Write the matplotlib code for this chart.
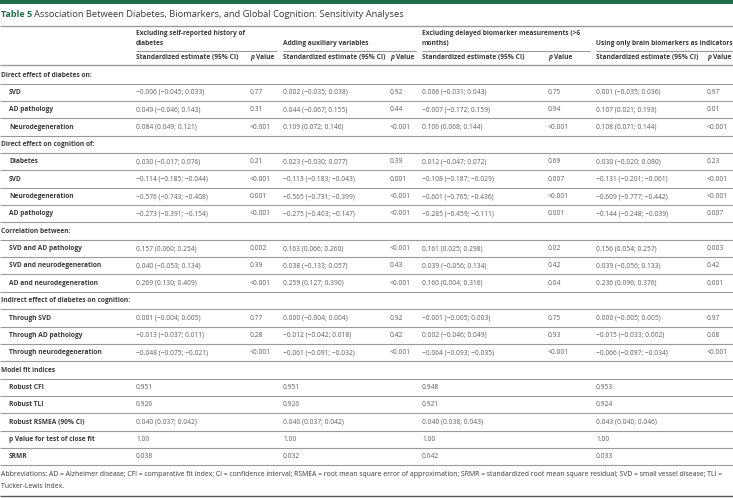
import matplotlib
matplotlib.use("Agg")
import matplotlib.pyplot as plt

# ---------------- data ----------------
title_label = "Table 5"
title_text = "Association Between Diabetes, Biomarkers, and Global Cognition: Sensitivity Analyses"

group_headers = [
    "Excluding self-reported history of\ndiabetes",
    "Adding auxiliary variables",
    "Excluding delayed biomarker measurements (>6\nmonths)",
    "Using only brain biomarkers as indicators",
]
sub_est = "Standardized estimate (95% CI)"

section_titles = [
    "Direct effect of diabetes on:",
    "Direct effect on cognition of:",
    "Correlation between:",
    "Indirect effect of diabetes on cognition:",
    "Model fit indices",
]
section_rows = [
    ["SVD", "AD pathology", "Neurodegeneration"],
    ["Diabetes", "SVD", "Neurodegeneration", "AD pathology"],
    ["SVD and AD pathology", "SVD and neurodegeneration", "AD and neurodegeneration"],
    ["Through SVD", "Through AD pathology", "Through neurodegeneration"],
    ["Robust CFI", "Robust TLI", "Robust RSMEA (90% CI)", "p Value for test of close fit", "SRMR"],
]

est_excl_selfreport = [
    "−0.006 (−0.045; 0.033)", "0.049 (−0.046; 0.143)", "0.084 (0.049; 0.121)",
    "0.030 (−0.017; 0.076)", "−0.114 (−0.185; −0.044)", "−0.576 (−0.743; −0.408)", "−0.273 (−0.391; −0.154)",
    "0.157 (0.060; 0.254)", "0.040 (−0.053; 0.134)", "0.269 (0.130; 0.409)",
    "0.001 (−0.004; 0.005)", "−0.013 (−0.037; 0.011)", "−0.048 (−0.075; −0.021)",
    "0.951", "0.926", "0.040 (0.037; 0.042)", "1.00", "0.038",
]
p_excl_selfreport = [
    "0.77", "0.31", "<0.001",
    "0.21", "<0.001", "0.001", "<0.001",
    "0.002", "0.39", "<0.001",
    "0.77", "0.28", "<0.001",
    "", "", "", "", "",
]
est_auxiliary = [
    "0.002 (−0.035; 0.038)", "0.044 (−0.067; 0.155)", "0.109 (0.072; 0.146)",
    "0.023 (−0.030; 0.077)", "−0.113 (−0.183; −0.043)", "−0.565 (−0.731; −0.399)", "−0.275 (−0.403; −0.147)",
    "0.163 (0.066; 0.260)", "0.038 (−0.133; 0.057)", "0.259 (0.127; 0.390)",
    "0.000 (−0.004; 0.004)", "−0.012 (−0.042; 0.018)", "−0.061 (−0.091; −0.032)",
    "0.951", "0.926", "0.040 (0.037; 0.042)", "1.00", "0.032",
]
p_auxiliary = [
    "0.92", "0.44", "<0.001",
    "0.39", "0.001", "<0.001", "<0.001",
    "<0.001", "0.43", "<0.001",
    "0.92", "0.42", "<0.001",
    "", "", "", "", "",
]
est_excl_delayed = [
    "0.006 (−0.031; 0.043)", "−0.007 (−0.172; 0.159)", "0.106 (0.068; 0.144)",
    "0.012 (−0.047; 0.072)", "−0.108 (−0.187; −0.029)", "−0.601 (−0.765; −0.436)", "−0.285 (−0.459; −0.111)",
    "0.161 (0.025; 0.298)", "0.039 (−0.056; 0.134)", "0.160 (0.004; 0.316)",
    "−0.001 (−0.005; 0.003)", "0.002 (−0.046; 0.049)", "−0.064 (−0.093; −0.035)",
    "0.948", "0.921", "0.040 (0.038; 0.043)", "1.00", "0.042",
]
p_excl_delayed = [
    "0.75", "0.94", "<0.001",
    "0.69", "0.007", "<0.001", "0.001",
    "0.02", "0.42", "0.04",
    "0.75", "0.93", "<0.001",
    "", "", "", "", "",
]
est_brain_only = [
    "0.001 (−0.035; 0.036)", "0.107 (0.021; 0.193)", "0.108 (0.071; 0.144)",
    "0.030 (−0.020; 0.080)", "−0.131 (−0.201; −0.061)", "−0.609 (−0.777; −0.442)", "−0.144 (−0.248; −0.039)",
    "0.156 (0.054; 0.257)", "0.039 (−0.056; 0.133)", "0.236 (0.096; 0.376)",
    "0.000 (−0.005; 0.005)", "−0.015 (−0.033; 0.002)", "−0.066 (−0.097; −0.034)",
    "0.953", "0.924", "0.043 (0.040; 0.046)", "1.00", "0.033",
]
p_brain_only = [
    "0.97", "0.01", "<0.001",
    "0.23", "<0.001", "<0.001", "0.007",
    "0.003", "0.42", "0.001",
    "0.97", "0.08", "<0.001",
    "", "", "", "", "",
]

footnote = [
    "Abbreviations: AD = Alzheimer disease; CFI = comparative fit index; CI = confidence interval; RSMEA = root mean square error of approximation; SRMR = standardized root mean square residual; SVD = small vessel disease; TLI =",
    "Tucker-Lewis Index.",
]

# ---------------- layout ----------------
W, H = 733, 498
fig = plt.figure(figsize=(W / 100, H / 100), dpi=100)
ax = fig.add_axes([0, 0, 1, 1])
ax.set_xlim(0, W)
ax.set_ylim(H, 0)
ax.axis("off")

FONT = "Open Sans"
GREEN = "#1e6e48"
DARK = "#3a3a3a"
VAL = "#5e5e5e"
LINE = "#9a9a9a"
FS = 4.8
BW = "bold"

est_cols = [est_excl_selfreport, est_auxiliary, est_excl_delayed, est_brain_only]
p_cols = [p_excl_selfreport, p_auxiliary, p_excl_delayed, p_brain_only]
est_x = [136, 283, 422, 596]
p_x = [250, 390, 548, 707]
group_span = [(136, 277), (283, 416), (422, 590), (596, 733)]

renderer = fig.canvas.get_renderer()

def fit_width(txt, target):
    bb = txt.get_window_extent(renderer=renderer)
    txt.set_fontsize(txt.get_fontsize() * target / bb.width)

# top green bar
ax.add_patch(plt.Rectangle((0, 0), W, 3.5, color=GREEN, lw=0))

# title
t1 = ax.text(1, 14.5, title_label, fontsize=6.5, fontweight="bold", color=GREEN,
             family=FONT, va="center", ha="left")
t2 = ax.text(34, 14.5, title_text, fontsize=6.5, color=DARK, family=FONT, va="center", ha="left")
fit_width(t2, 403 - 34)

def hline(y, x0=0, x1=W, color=LINE, lw=0.8):
    ax.plot([x0, x1], [y, y], color=color, lw=lw, solid_capstyle="butt")

hline(25.5, lw=1.0)

# group headers
for g, x, (a, b) in zip(group_headers, est_x, group_span):
    ax.text(x, 46.5, g, fontsize=FS, fontweight=BW, color=DARK, family=FONT,
            va="bottom", ha="left", linespacing=1.5)
    hline(50.5, a, b)

# sub headers
for x, px in zip(est_x, p_x):
    ax.text(x, 57.5, sub_est, fontsize=FS, fontweight=BW, color=DARK, family=FONT,
            va="center", ha="left")
    ax.text(px, 57.5, "p", fontsize=FS, fontweight=BW, style="italic", color=DARK,
            family=FONT, va="center", ha="left")
    ax.text(px + 5.6, 57.5, "Value", fontsize=FS, fontweight=BW, color=DARK,
            family=FONT, va="center", ha="left")

hline(64.5, lw=1.0)

pitch = 17.36
y = 75.0
k = 0
for sec, rows in zip(section_titles, section_rows):
    ax.text(1, y, sec, fontsize=FS, fontweight=BW, color=DARK, family=FONT,
            va="center", ha="left")
    hline(y + 8.5)
    y += pitch
    for r in rows:
        ax.text(9, y, r, fontsize=FS, fontweight=BW, color=DARK, family=FONT,
                va="center", ha="left")
        for c in range(4):
            ax.text(est_x[c], y, est_cols[c][k], fontsize=FS, color=VAL, family=FONT,
                    va="center", ha="left")
            if p_cols[c][k]:
                ax.text(p_x[c], y, p_cols[c][k], fontsize=FS, color=VAL, family=FONT,
                        va="center", ha="left")
        hline(y + 8.5)
        y += pitch
        k += 1

# footnote
f1 = ax.text(1, 474.5, footnote[0], fontsize=4.6, color=DARK, family=FONT, va="center", ha="left")
fit_width(f1, 712)
ax.text(1, 486, footnote[1], fontsize=f1.get_fontsize(), color=DARK, family=FONT,
        va="center", ha="left")
hline(495.5, lw=1.0, color="#555555")

fig.savefig("out.png", dpi=100)
